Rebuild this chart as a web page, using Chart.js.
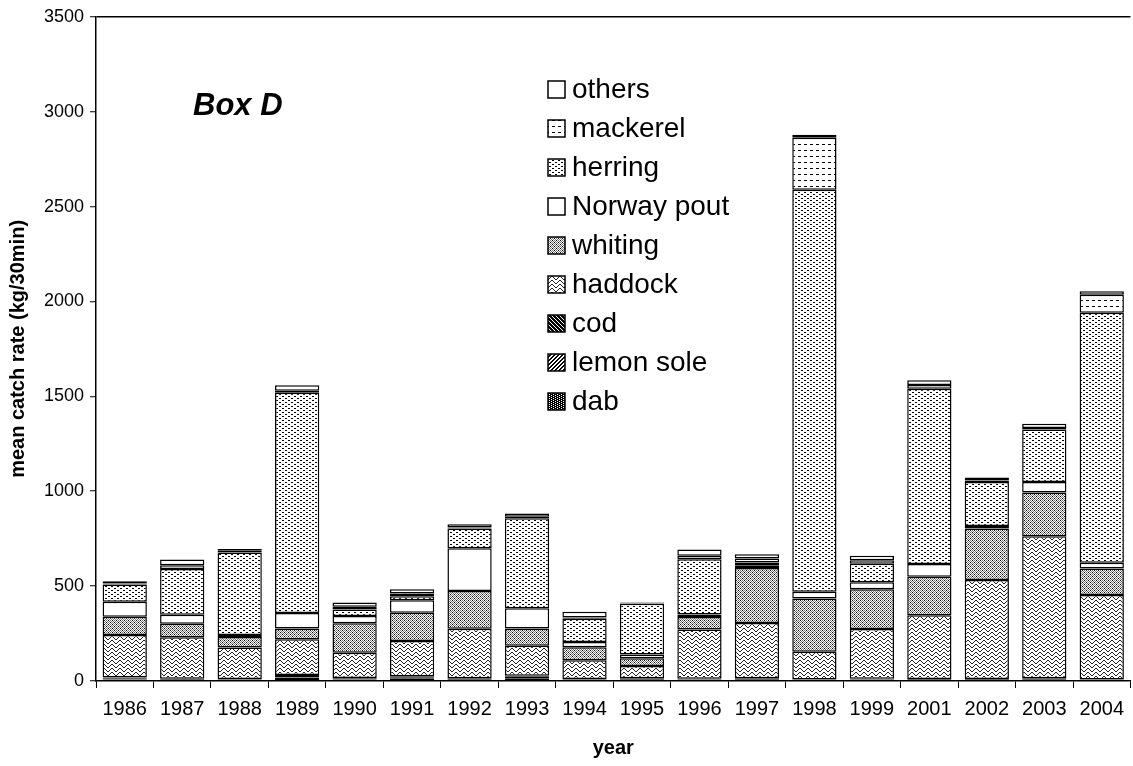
<!DOCTYPE html>
<html><head><meta charset="utf-8">
<script src="https://cdn.jsdelivr.net/npm/chart.js@4.4.1/dist/chart.umd.min.js"></script>
<style>html,body{margin:0;padding:0;background:#fff;}#wrap{width:1133px;height:766px;}</style>
</head><body><div id="wrap"><canvas id="c" width="1133" height="766"></canvas></div>
<script>
const years = ['1986','1987','1988','1989','1990','1991','1992','1993','1994','1995','1996','1997','1998','1999','2001','2002','2003','2004'];
const dab       = [8,5,5,18,8,12,6,12,5,6,5,6,3,5,4,4,6,3];
const lemonSole = [6,4,3,8,4,8,5,10,3,4,3,5,2,3,3,2,4,2];
const cod       = [4,3,2,6,4,5,4,6,2,4,4,4,3,4,3,4,4,3];
const haddock   = [224,218,167,188,133,186,260,158,100,65,260,290,146,262,337,522,749,445];
const whiting   = [96,72,55,57,155,149,199,91,68,41,65,290,281,209,202,272,230,140];
const norwayPout= [79,47,10,81,38,66,226,107,27,20,13,15,35,37,67,13,56,30];
const herring   = [92,241,435,1161,35,21,103,474,123,267,292,15,2118,98,924,232,276,1317];
const mackerel  = [5,20,9,11,14,14,6,8,7,3,18,20,274,18,20,8,8,95];
const others    = [12,30,10,28,23,23,17,16,30,4,33,23,16,24,25,15,23,19];
const yTickValues = [0,500,1000,1500,2000,2500,3000,3500];
const seriesNames = ['dab','lemon sole','cod','haddock','whiting','Norway pout','herring','mackerel','others'];
const seriesData = [dab,lemonSole,cod,haddock,whiting,norwayPout,herring,mackerel,others];

const FONT = "'Liberation Sans', Arial, sans-serif";
const canvas = document.getElementById('c');
const ctx = canvas.getContext('2d');

function pat(w, h, bg, cells) {
  const t = document.createElement('canvas');
  t.width = w; t.height = h;
  const g = t.getContext('2d');
  g.fillStyle = bg; g.fillRect(0, 0, w, h);
  cells.forEach(([x, y, col]) => { g.fillStyle = col; g.fillRect(x, y, 1, 1); });
  return ctx.createPattern(t, 'repeat');
}
function gen(w, h, bg, fn) {
  const cells = [];
  for (let y = 0; y < h; y++) for (let x = 0; x < w; x++) { const c = fn(x, y); if (c) cells.push([x, y, c]); }
  return pat(w, h, bg, cells);
}
const fills = [
  gen(4, 4, '#000', (x, y) => (x % 2 === 1 && (y % 2 === (x === 1 ? 0 : 1))) ? '#fff' : null),       // dab
  gen(4, 4, '#fff', (x, y) => ((x + y) % 4 < 2) ? '#000' : null),                                       // lemon sole
  gen(4, 4, '#000', (x, y) => ((x - y + 8) % 4 === 0) ? '#fff' : null),                                 // cod
  gen(8, 4, '#fff', (x, y) => ([0,1,2,3,3,2,1,0][x] === y) ? '#222' : null),                            // haddock
  gen(4, 4, '#fff', (x, y) => ((x === 0 && y === 0) || (x === 2 && y === 2)) ? '#000' : ((x + y) % 2 === 0 ? '#777' : null)), // whiting
  '#ffffff',                                                                                             // Norway pout
  gen(6, 4, '#fff', (x, y) => ((y === 0 && (x === 0 || x === 1)) || (y === 2 && (x === 3 || x === 4))) ? '#000' : null), // herring
  gen(6, 6, '#fff', (x, y) => (y === 0 && x < 3) ? '#000' : null),                                      // mackerel
  '#ffffff'                                                                                              // others
];

const datasets = seriesNames.map((n, i) => ({
  label: n,
  data: seriesData[i],
  backgroundColor: fills[i],
  borderColor: '#000',
  borderWidth: 1.5,
  borderSkipped: false
}));

const legendPlugin = {
  id: 'insideLegend',
  afterDraw(chart) {
    const c = chart.ctx;
    const ds = chart.data.datasets.slice().reverse();
    c.save();
    c.font = '28px ' + FONT;
    c.textBaseline = 'middle';
    ds.forEach((d, i) => {
      const y = 89 + i * 39;
      c.fillStyle = d.backgroundColor;
      c.fillRect(548, y - 8, 17, 17);
      c.lineWidth = 1.5;
      c.strokeStyle = '#000';
      c.strokeRect(548, y - 8, 17, 17);
      c.fillStyle = '#000';
      c.fillText(d.label, 572, y + 1);
    });
    c.restore();
  }
};
const boxLabel = {
  id: 'boxLabel',
  afterDraw(chart) {
    const c = chart.ctx;
    c.save();
    c.font = 'italic bold 31px ' + FONT;
    c.textBaseline = 'middle';
    c.fillStyle = '#000';
    c.fillText('Box D', 193, 106);
    c.restore();
  }
};

new Chart(ctx, {
  type: 'bar',
  data: { labels: years, datasets },
  options: {
    responsive: false,
    animation: false,
    layout: { padding: { top: 16, right: 0, left: 0, bottom: 0 } },
    plugins: { legend: { display: false }, tooltip: { enabled: false } },
    datasets: { bar: { categoryPercentage: 1, barPercentage: 0.77 } },
    scales: {
      x: {
        stacked: true,
        grid: { display: true, drawOnChartArea: false, offset: true, tickLength: 7, tickColor: '#000', tickWidth: 1 },
        border: { color: '#000', width: 1.5 },
        ticks: { color: '#000', font: { family: FONT, size: 20 }, padding: 9, maxRotation: 0, autoSkip: false },
        title: { display: true, text: 'year', color: '#000', font: { family: FONT, size: 20, weight: 'bold' }, padding: { top: 0, bottom: 6 } },
        afterFit(s) { s.height = 85; }
      },
      y: {
        stacked: true, min: 0, max: 3500,
        afterBuildTicks(s) { s.ticks = yTickValues.map(v => ({ value: v })); },
        ticks: { color: '#000', font: { family: FONT, size: 18 }, padding: 6, callback: v => String(v) },
        grid: { color: c => (c.tick && c.tick.value === 3500) ? '#000' : 'rgba(0,0,0,0)', lineWidth: 1.5, tickLength: 6, tickColor: '#000', tickWidth: 1 },
        border: { color: '#000', width: 1.5 },
        title: { display: true, text: 'mean catch rate (kg/30min)', color: '#000', font: { family: FONT, size: 20, weight: 'bold' }, padding: { top: 6, bottom: 0 } },
        afterFit(s) { s.width = 96; }
      }
    }
  },
  plugins: [legendPlugin, boxLabel]
});
</script>
</body></html>
